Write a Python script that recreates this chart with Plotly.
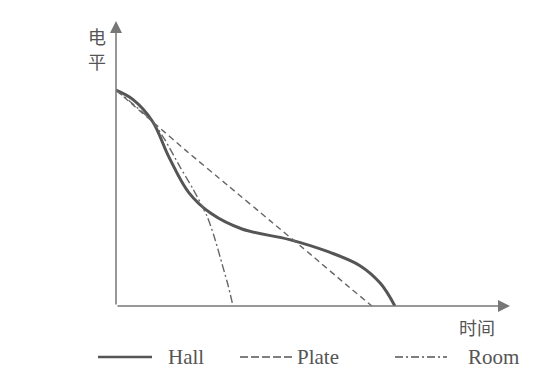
import plotly.graph_objects as go

# Data (arbitrary units)
hall_t = [0, 0.6, 1.3, 1.9, 2.6, 3.4, 4.5, 6.2, 7.6, 8.7, 9.45, 9.96]
hall_v = [7.71, 7.38, 6.6, 5.3, 4.05, 3.3, 2.75, 2.37, 1.93, 1.45, 0.8, 0]

plate_t = [0, 0.61, 1.32, 2.5, 4.0, 5.5, 7.0, 8.2, 9.14]
plate_v = [7.71, 7.18, 6.57, 5.55, 4.3, 3.05, 1.8, 0.78, 0]

room_t = [0, 0.61, 1.32, 1.75, 2.29, 2.75, 3.25, 3.5, 3.82, 4.0, 4.18]
room_v = [7.71, 7.21, 6.57, 5.93, 4.96, 4.18, 3.21, 2.5, 1.39, 0.75, 0]

series_names = ["Hall", "Plate", "Room"]
x_label = "时间"
y_label_chars = ["电", "平"]

W, H = 557, 386
x0px, x1px = 116, 510
y0px, y1px = 306, 21
scale = 28.0
xmax = (x1px - x0px) / scale
ymax = (y0px - y1px) / scale

fig = go.Figure()
fig.add_trace(go.Scatter(x=hall_t, y=hall_v, mode="lines", line=dict(color="#555555", width=3, shape="spline", smoothing=1.0), showlegend=False))
fig.add_trace(go.Scatter(x=plate_t, y=plate_v, mode="lines", line=dict(color="#666666", width=1.4, dash="6px,4px", shape="spline", smoothing=0.5), showlegend=False))
fig.add_trace(go.Scatter(x=room_t, y=room_v, mode="lines", line=dict(color="#666666", width=1.4, dash="8px,3px,2px,3px", shape="spline", smoothing=0.7), showlegend=False))

axis_col = "#777777"
fig.update_layout(
    width=W, height=H,
    margin=dict(l=0, r=0, t=0, b=0),
    paper_bgcolor="white", plot_bgcolor="white",
    xaxis=dict(domain=[x0px / W, x1px / W], range=[0, xmax], showgrid=False, zeroline=False,
               showticklabels=False, ticks="", showline=False),
    yaxis=dict(domain=[(H - y0px) / H, (H - y1px) / H], range=[0, ymax], showgrid=False, zeroline=False,
               showticklabels=False, ticks="", showline=False),
)

# Axes with arrows
fig.add_annotation(x=xmax, y=0, ax=0, ay=0, xref="x", yref="y", axref="x", ayref="y",
                   showarrow=True, arrowhead=2, arrowsize=1.6, arrowwidth=1.5, arrowcolor=axis_col, text="")
fig.add_annotation(x=0, y=ymax, ax=0, ay=0, xref="x", yref="y", axref="x", ayref="y",
                   showarrow=True, arrowhead=2, arrowsize=1.6, arrowwidth=1.5, arrowcolor=axis_col, text="")

cjk = "Noto Sans CJK SC"
for ch, cy in zip(y_label_chars, [36, 61]):
    fig.add_annotation(x=97 / W, y=1 - cy / H, xref="paper", yref="paper", text=ch, showarrow=False,
                       font=dict(family=cjk, size=18, color="#555555"), xanchor="center", yanchor="middle")
fig.add_annotation(x=477 / W, y=1 - 327 / H, xref="paper", yref="paper", text=x_label, showarrow=False,
                   font=dict(family=cjk, size=18, color="#555555"), xanchor="center", yanchor="middle")

# Custom legend
leg_y = 1 - 357 / H
leg_items = [
    (series_names[0], 98, 152, 166, None, 2.5),
    (series_names[1], 240, 292, 295, "8px,3px", 1.5),
    (series_names[2], 395, 447, 466, "8px,3px,2px,3px", 1.5),
]
for name, lx0, lx1, tx, dash, w in leg_items:
    ln = dict(color="#555555", width=w)
    if dash:
        ln["dash"] = dash
    fig.add_shape(type="line", xref="paper", yref="paper", x0=lx0 / W, x1=lx1 / W, y0=leg_y, y1=leg_y, line=ln)
    fig.add_annotation(x=tx / W, y=leg_y, xref="paper", yref="paper", text=name, showarrow=False,
                       xanchor="left", yanchor="middle",
                       font=dict(family="Liberation Serif", size=21, color="#555555"))

fig.write_html("out.html")
